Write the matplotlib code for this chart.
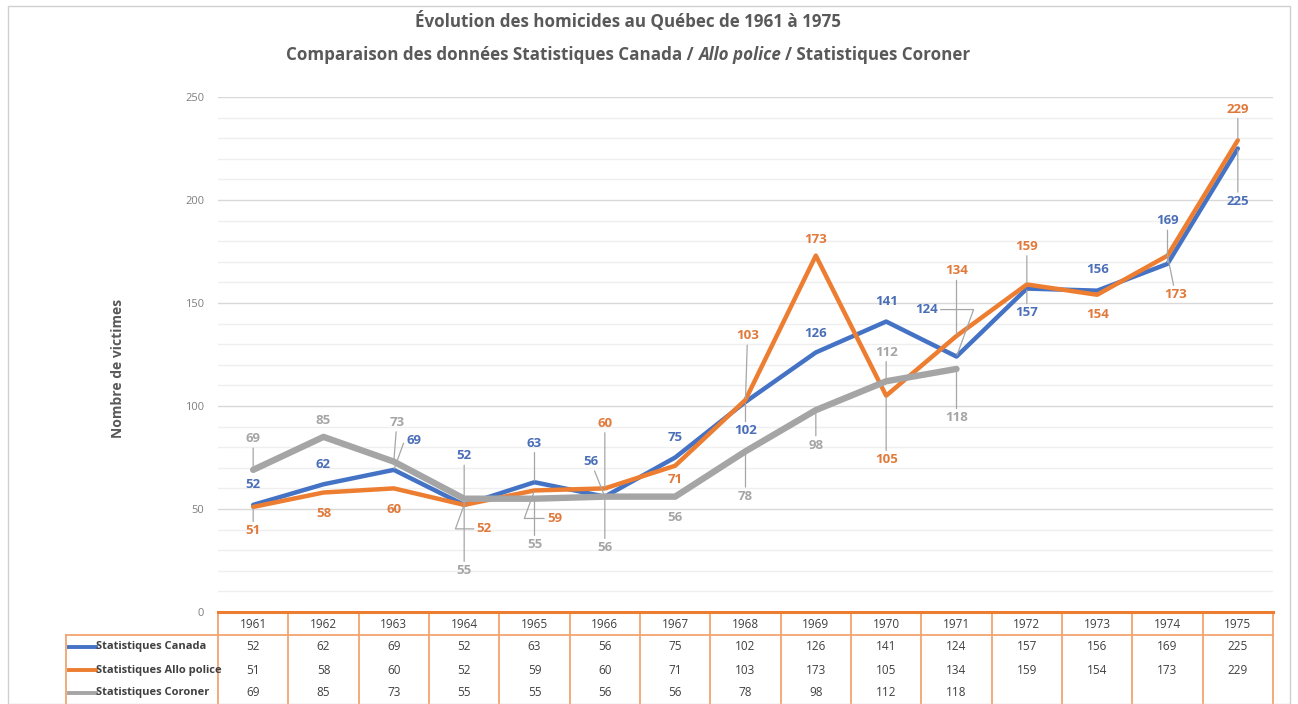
import numpy as np
import matplotlib
matplotlib.use('Agg')
import matplotlib.pyplot as plt
from matplotlib import font_manager
from matplotlib.transforms import blended_transform_factory
from matplotlib.patches import Rectangle

# Data
years = list(range(1961, 1976))
canada = [52, 62, 69, 52, 63, 56, 75, 102, 126, 141, 124, 157, 156, 169, 225]
allo_police = [51, 58, 60, 52, 59, 60, 71, 103, 173, 105, 134, 159, 154, 173, 229]
coroner = [69, 85, 73, 55, 55, 56, 56, 78, 98, 112, 118, None, None, None, None]
series_names = ['Statistiques Canada', 'Statistiques Allo police', 'Statistiques Coroner']

# label placement (dx, dy in pixels, y downwards, leader line flag)
canada_lbl = [(0, -20, 0), (0, -20, 0), (20, -29, 2), (0, -49, 1), (0, -39, 1), (-14, -35, 1),
              (0, -20, 0), (0, 29, 1), (0, -19, 0), (0, -20, 0), (-30, -47, 2), (0, 24, 1),
              (0, -21, 0), (0, -43, 1), (0, 53, 1)]
allo_lbl = [(0, 24, 1), (0, 21, 0), (0, 21, 0), (20, 24, 2), (20, 28, 2), (0, -65, 1),
            (0, 14, 0), (2, -64, 1), (0, -16, 0), (0, 64, 1), (0, -65, 1), (0, -38, 1),
            (0, 20, 0), (8, 39, 1), (0, -31, 1)]
coroner_lbl = [(0, -31, 1), (0, -16, 0), (3, -39, 1), (0, 72, 1), (0, 46, 1), (0, 51, 1),
               (0, 21, 0), (0, 45, 1), (0, 35, 1), (0, -29, 1), (0, 49, 1)]

colors = ['#4472C4', '#ED7D31', '#A5A5A5']
label_colors = ['#4A6EB8', '#E0793A', '#A5A5A5']
text_dark = '#404040'
title_color = '#595959'
table_orange = '#F2A46E'


def pick_font(names):
    for n in names:
        try:
            font_manager.findfont(n, fallback_to_default=False)
            return n
        except Exception:
            pass
    return 'DejaVu Sans'


title_font = pick_font(['Liberation Sans Narrow', 'Open Sans', 'Liberation Sans'])
body_font = pick_font(['Open Sans', 'Liberation Sans'])
plt.rcParams['font.family'] = body_font

W, H = 1298, 704
fig = plt.figure(figsize=(W / 100, H / 100), dpi=100)
fig.patch.set_facecolor('white')
fig.add_artist(Rectangle((8 / W, 0), (1290 - 8) / W, 1 - 6 / H, transform=fig.transFigure,
                         fill=False, edgecolor='#D0D0D0', lw=1))

ax = fig.add_axes([218 / W, 92 / H, (1273 - 218) / W, (612 - 97) / H])
x = np.arange(len(years))
ax.set_xlim(-0.5, len(years) - 0.5)
ax.set_ylim(0, 250)
for s in ax.spines.values():
    s.set_visible(False)
ax.set_xticks([])
ax.set_yticks(range(0, 251, 50))
ax.set_yticks(range(0, 251, 10), minor=True)
ax.tick_params(axis='y', which='both', length=0, pad=10, labelsize=8, labelcolor='#7F7F7F')
ax.grid(axis='y', which='major', color='#D9D9D9', lw=1)
ax.grid(axis='y', which='minor', color='#EFEFEF', lw=1)
ax.set_axisbelow(True)

all_series = [canada, allo_police, coroner]
all_lbls = [canada_lbl, allo_lbl, coroner_lbl]
widths = [3.2, 3.2, 4.6]
for k, (vals, lbls) in enumerate(zip(all_series, all_lbls)):
    v = np.array([np.nan if a is None else a for a in vals], dtype=float)
    ax.plot(x, v, color=colors[k], lw=widths[k], solid_joinstyle='round',
            solid_capstyle='round', zorder=3 + k)
    for i, (dx, dy, leader) in enumerate(lbls):
        props = None
        if leader:
            props = dict(arrowstyle='-', color='#A6A6A6', lw=0.9, shrinkA=0, shrinkB=1)
            if leader == 2:
                props['relpos'] = (1, 0.5) if dx < 0 else (0, 0.5)
                props['connectionstyle'] = 'angle,angleA=0,angleB=70,rad=0'
        ax.annotate(str(vals[i]), (x[i], v[i]), xytext=(dx, -dy), textcoords='offset pixels',
                    ha='center', va='center', fontsize=9.5, fontweight='bold',
                    color=label_colors[k], arrowprops=props, zorder=10)

# data table below the chart
bt = blended_transform_factory(ax.transData, fig.transFigure)


def fy(p):
    return 1 - p / H


ax.plot([-0.5, len(years) - 0.5], [fy(612)] * 2, transform=bt, color='#ED7D31', lw=2.2,
        clip_on=False, zorder=6)
ax.plot([66 / W, 1273 / W], [fy(635)] * 2, transform=fig.transFigure, color=table_orange,
        lw=1.3, clip_on=False)
ax.plot([66 / W, 66 / W], [fy(635), 0], transform=fig.transFigure, color=table_orange,
        lw=1.3, clip_on=False)
for i in range(len(years) + 1):
    ax.plot([i - 0.5, i - 0.5], [fy(612), 0], transform=bt, color=table_orange, lw=1.3,
            clip_on=False)
for i, yr in enumerate(years):
    ax.text(i, fy(624), str(yr), transform=bt, ha='center', va='center', fontsize=8.5,
            color=text_dark)
row_y = [647, 670, 693]
for k, vals in enumerate(all_series):
    for i, val in enumerate(vals):
        if val is not None:
            ax.text(i, fy(row_y[k]), str(val), transform=bt, ha='center', va='center',
                    fontsize=8.5, color=text_dark)
    fig.add_artist(plt.Line2D([69 / W, 96 / W], [fy(row_y[k])] * 2, color=colors[k], lw=2.8))
    fig.text(96 / W, fy(row_y[k]), series_names[k], ha='left', va='center', fontsize=8,
             fontweight='bold', color=text_dark)

fig.text(118 / W, fy(368), 'Nombre de victimes', rotation=90, ha='center', va='center',
         fontsize=10, fontweight='bold', color=title_color)

# title, fitted to the reference width of the second line
renderer = fig.canvas.get_renderer()


def title_line(parts, cy, size=None, target_w=None, cx=628):
    texts = [fig.text(0, fy(cy), s, fontsize=10, fontweight='bold', fontstyle=st,
                      family=title_font, color=title_color, va='center', ha='left')
             for s, st in parts]
    if size is None:
        tot = sum(t.get_window_extent(renderer).width for t in texts)
        size = 10 * target_w / tot
    for t in texts:
        t.set_fontsize(size)
    ws = [t.get_window_extent(renderer).width for t in texts]
    probe = fig.text(0, 0, 'a a', fontsize=size, fontweight='bold', family=title_font)
    probe2 = fig.text(0, 0, 'aa', fontsize=size, fontweight='bold', family=title_font)
    gap = probe.get_window_extent(renderer).width - probe2.get_window_extent(renderer).width
    probe.remove()
    probe2.remove()
    total = sum(ws) + gap * (len(ws) - 1)
    left = cx - total / 2
    for t, w in zip(texts, ws):
        t.set_x(left / W)
        left += w + gap
    return size


tsize = title_line([('Comparaison des données Statistiques Canada /', 'normal'),
                    ('Allo police', 'italic'),
                    ('/ Statistiques Coroner', 'normal')], 55, target_w=674)
title_line([('Évolution des homicides au Québec de 1961 à 1975', 'normal')], 21, size=tsize)

fig.savefig('out.png', dpi=100)
